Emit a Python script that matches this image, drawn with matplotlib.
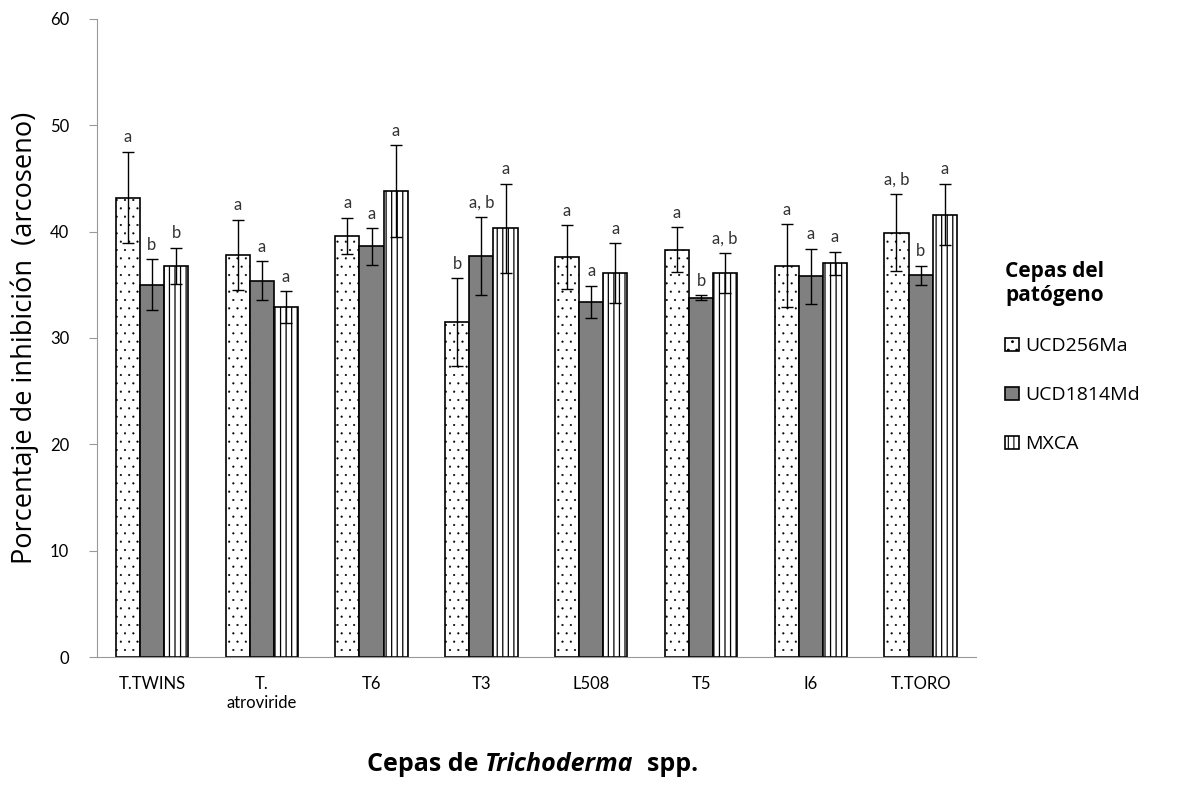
import matplotlib.pyplot as plt
import numpy as np

plt.rcParams['font.family'] = ['Lato', 'DejaVu Sans']
plt.rcParams['hatch.linewidth'] = 0.8

# Cepas de Trichoderma y cepas del patógeno
cepas = ['T.TWINS', 'T.\natroviride', 'T6', 'T3', 'L508', 'T5', 'I6', 'T.TORO']
series = ['UCD256Ma', 'UCD1814Md', 'MXCA']

ucd256 = [43.2, 37.8, 39.6, 31.5, 37.6, 38.3, 36.8, 39.9]
ucd1814 = [35.0, 35.4, 38.6, 37.7, 33.4, 33.8, 35.8, 35.9]
mxca = [36.8, 32.9, 43.8, 40.3, 36.1, 36.1, 37.0, 41.6]

err256 = [4.3, 3.3, 1.7, 4.1, 3.0, 2.1, 3.9, 3.6]
err1814 = [2.4, 1.8, 1.7, 3.7, 1.5, 0.2, 2.6, 0.9]
errmx = [1.7, 1.5, 4.3, 4.2, 2.8, 1.9, 1.1, 2.9]

let256 = ['a', 'a', 'a', 'b', 'a', 'a', 'a', 'a, b']
let1814 = ['b', 'a', 'a', 'a, b', 'a', 'b', 'a', 'b']
letmx = ['b', 'a', 'a', 'a', 'a', 'a, b', 'a', 'a']

valores = [ucd256, ucd1814, mxca]
errores = [err256, err1814, errmx]
letras = [let256, let1814, letmx]
colores = ['white', '#808080', 'white']
tramas = ['..', '', '|||']
grosor_trama = [0.3, 0.8, 0.9]

fig = plt.figure(figsize=(11.92, 7.85), dpi=100)
ax = fig.add_axes([0.0814, 0.163, 0.737, 0.813])

x = np.arange(len(cepas))
w = 0.22
for i in range(3):
    pos = x + (i - 1) * w
    barras = ax.bar(pos, valores[i], w, color=colores[i], edgecolor='black',
                    hatch=tramas[i], linewidth=1.2, label=series[i])
    for b in barras:
        b.set_hatch_linewidth(grosor_trama[i])
    ax.errorbar(pos, valores[i], yerr=errores[i], fmt='none', ecolor='black',
                elinewidth=1, capsize=4, capthick=1)
    for xp, v, e, t in zip(pos, valores[i], errores[i], letras[i]):
        ax.text(xp, v + e + 0.6, t, ha='center', va='bottom', fontsize=12, color='#333333')

ax.set_xlim(-0.5, len(cepas) - 0.5)
ax.set_ylim(0, 60)
ax.set_yticks(range(0, 61, 10))
ax.set_xticks(x)
ax.set_xticklabels(cepas, fontsize=12)
ax.tick_params(axis='x', length=0, pad=14)
ax.tick_params(axis='y', labelsize=12, color='#999999', direction='out', length=6, pad=14)
for s in ['top', 'right']:
    ax.spines[s].set_visible(False)
ax.spines['left'].set_color('#999999')
ax.spines['bottom'].set_color('#999999')

ax.set_ylabel('Porcentaje de inhibición  (arcoseno)', fontsize=19.5, family='Open Sans',
              labelpad=8)

# Título del eje x con el género en cursiva
t1 = fig.text(0.308, 0.01, 'Cepas de ', fontsize=18, fontweight='bold',
              family='Open Sans', va='bottom')
t2 = ax.annotate('Trichoderma', xy=(1, 0), xycoords=t1, va='bottom', fontsize=18,
                 fontweight='bold', fontstyle='italic', family='Open Sans')
ax.annotate('  spp.', xy=(1, 0), xycoords=t2, va='bottom', fontsize=18,
            fontweight='bold', family='Open Sans')

leg = ax.legend(title='Cepas del\npatógeno', loc='center left', bbox_to_anchor=(1.034, 0.47),
                frameon=False, prop={'family': 'Open Sans', 'size': 14},
                handlelength=0.7, handleheight=0.7, handletextpad=0.3,
                labelspacing=1.6, borderpad=0, borderaxespad=0)
leg.get_title().set_fontweight('bold')
leg.get_title().set_fontsize(15)
leg.get_title().set_family('Open Sans')
leg._legend_box.align = 'left'

fig.savefig('out.png', dpi=100)
